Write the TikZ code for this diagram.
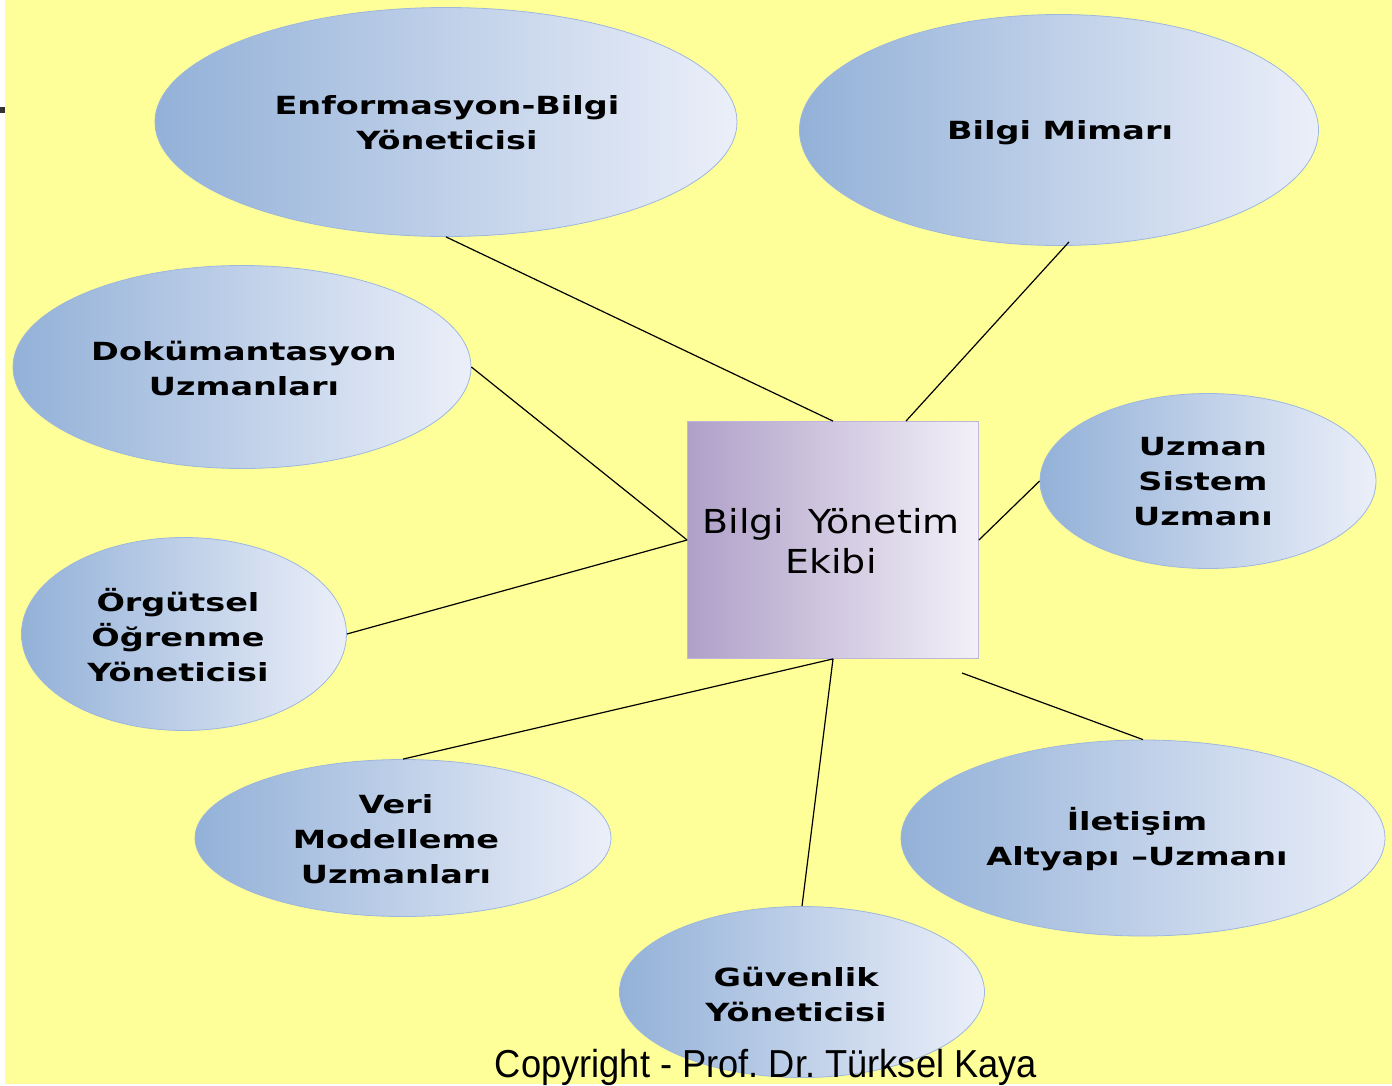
\documentclass[tikz,border=0pt]{standalone}
\usepackage{fontspec}
\setmainfont{DejaVu Sans}
\newfontfamily\rolefont[FakeStretch=1.34]{DejaVu Sans}
\newfontfamily\centerfont[FakeStretch=1.15]{DejaVu Sans}
\newfontfamily\copyfont[FakeStretch=0.93]{Liberation Sans}
\usetikzlibrary{shapes.geometric,calc}
\frenchspacing
\definecolor{bgyellow}{HTML}{FFFF99}
\definecolor{elleft}{HTML}{93B1D8}
\definecolor{elright}{HTML}{EBEFF9}
\definecolor{elborder}{HTML}{9DB7DD}
\definecolor{boxleft}{HTML}{AFA0C8}
\definecolor{boxright}{HTML}{F2F0F8}
\definecolor{boxborder}{HTML}{C0B6DC}
\tikzset{
  roleell/.style={ellipse, draw=elborder, line width=0.8pt, left color=elleft, right color=elright,
    inner sep=0pt},
  rolelabel/.style={inner sep=0pt, align=center, font=\rolefont\bfseries\fontsize{25}{35}\selectfont},
  link/.style={draw=black, line width=1.2pt},
}
\begin{document}
\begin{tikzpicture}[x=1pt,y=-1pt]
\useasboundingbox (0,0) rectangle (1392,1085);
\fill[white] (0,0) rectangle (1392,1085);
\fill[bgyellow] (5,0) rectangle (1392,1084);
\fill[black!80] (0,107) rectangle (5,113);

\node[draw=boxborder, line width=0.8pt, left color=boxleft, right color=boxright,
  minimum width=291pt, minimum height=237pt, inner sep=0pt] (box) at (833,540) {};
\node[inner sep=0pt, align=center, font=\centerfont\fontsize{33}{40}\selectfont] (boxL) at (831,541) {Bilgi\ \ Yönetim\\Ekibi};

\node[roleell, minimum width=582pt, minimum height=229pt] (enf) at (446,122) {};
\node[roleell, minimum width=519pt, minimum height=231pt] (mim) at (1059,130) {};
\node[roleell, minimum width=458pt, minimum height=203pt] (dok) at (242,367) {};
\node[roleell, minimum width=336pt, minimum height=175pt] (uz) at (1208,481) {};
\node[roleell, minimum width=325pt, minimum height=193pt] (org) at (184,634) {};
\node[roleell, minimum width=416pt, minimum height=157pt] (veri) at (403,838) {};
\node[roleell, minimum width=484pt, minimum height=196pt] (ilet) at (1143,838) {};
\node[roleell, minimum width=365pt, minimum height=171pt] (guv) at (802,992) {};

\node[rolelabel] (enfL) at (447,123) {Enformasyon-Bilgi\\Yöneticisi};
\node[rolelabel] (mimL) at (1060,133) {Bilgi Mimarı};
\node[rolelabel] (dokL) at (244,368) {Dokümantasyon\\Uzmanları};
\node[rolelabel] (uzL) at (1203,482) {Uzman\\Sistem\\Uzmanı};
\node[rolelabel] (orgL) at (178,635) {Örgütsel\\Öğrenme\\Yöneticisi};
\node[rolelabel] (veriL) at (396,839) {Veri\\Modelleme\\Uzmanları};
\node[rolelabel] (iletL) at (1137,839) {İletişim\\Altyapı –Uzmanı};
\node[rolelabel] (guvL) at (796,994) {Güvenlik\\Yöneticisi};

\coordinate (iletend) at (962,673);

\draw[link] (enf.south) -- (box.north);
\draw[link] ($(mim.south)+(10,-4)$) -- ($(box.north west)!0.75!(box.north east)$);
\draw[link] (dok.east) -- (box.west);
\draw[link] (org.east) -- (box.west);
\draw[link] (uz.west) -- (box.east);
\draw[link] (ilet.north) -- (iletend);
\draw[link] (veri.north) -- (box.south);
\draw[link] (guv.north) -- (box.south);

\node[font=\copyfont\fontsize{39}{42}\selectfont, inner sep=0pt, anchor=base] (copy) at (766,1077) {Copyright - Prof. Dr. Türksel Kaya};
\end{tikzpicture}
\end{document}
